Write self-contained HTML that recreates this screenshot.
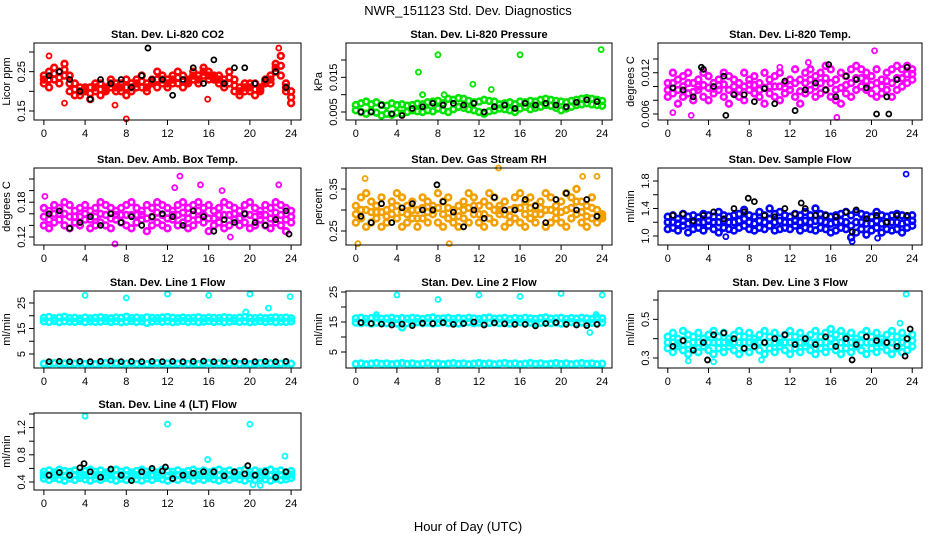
<!DOCTYPE html>
<html><head><meta charset="utf-8">
<style>
html,body{margin:0;padding:0;background:#fff;}
svg{display:block;font-family:"Liberation Sans",Arial,sans-serif;}
</style></head>
<body>
<svg id="chart" width="936" height="540" viewBox="0 0 936 540">
<text x="468" y="15" text-anchor="middle" font-size="13">NWR_151123  Std. Dev. Diagnostics</text>
<text x="468" y="531" text-anchor="middle" font-size="13">Hour of Day (UTC)</text>
</svg>
<script>
const hoursHalf = [0,0.5,1,1.5,2,2.5,3,3.5,4,4.5,5,5.5,6,6.5,7,7.5,8,8.5,9,9.5,10,10.5,11,11.5,12,12.5,13,13.5,14,14.5,15,15.5,16,16.5,17,17.5,18,18.5,19,19.5,20,20.5,21,21.5,22,22.5,23,23.5,24];
const hoursBlack = [0.5,1.5,2.5,3.5,4.5,5.5,6.5,7.5,8.5,9.5,10.5,11.5,12.5,13.5,14.5,15.5,16.5,17.5,18.5,19.5,20.5,21.5,22.5,23.5];
const xTicks = [0,4,8,12,16,20,24];

// Panel 1: Li-820 CO2
const co2A = [0.24,0.25,0.26,0.25,0.27,0.24,0.22,0.21,0.20,0.21,0.20,0.22,0.21,0.23,0.22,0.20,0.23,0.22,0.21,0.24,0.22,0.23,0.25,0.22,0.23,0.24,0.22,0.24,0.23,0.25,0.24,0.26,0.23,0.24,0.22,0.23,0.25,0.23,0.21,0.22,0.20,0.22,0.21,0.22,0.24,0.27,0.29,0.22,0.17];
const co2B = [0.22,0.21,0.23,0.22,0.24,0.20,0.19,0.19,0.21,0.18,0.22,0.19,0.20,0.21,0.20,0.22,0.19,0.20,0.23,0.21,0.20,0.22,0.21,0.24,0.21,0.22,0.25,0.21,0.22,0.23,0.22,0.24,0.25,0.23,0.24,0.21,0.22,0.20,0.19,0.20,0.22,0.19,0.20,0.23,0.22,0.25,0.24,0.20,0.20];
const co2M = [0.23,0.23,0.245,0.235,0.255,0.22,0.205,0.20,0.205,0.195,0.21,0.205,0.205,0.22,0.21,0.21,0.21,0.21,0.22,0.225,0.21,0.225,0.23,0.23,0.22,0.23,0.235,0.225,0.225,0.24,0.23,0.25,0.24,0.235,0.23,0.22,0.235,0.215,0.20,0.21,0.21,0.205,0.205,0.225,0.23,0.26,0.265,0.21,0.185];
const co2Black = [0.24,0.25,0.23,0.20,0.18,0.23,0.22,0.23,0.21,0.24,0.23,0.23,0.19,0.23,0.26,0.22,0.28,0.22,0.26,0.26,0.22,0.23,0.25,0.21];
const co2Out = [[8,0.13],[0.5,0.29],[6.9,0.165],[2,0.17],[22.8,0.31],[15.9,0.18]];
const co2BlackOut = [[10.1,0.31]];
// Panel 2: Pressure
const presA = [0.0070,0.0075,0.0080,0.0072,0.0078,0.0070,0.0068,0.0075,0.0070,0.0072,0.0068,0.0070,0.0074,0.0072,0.0078,0.0080,0.0082,0.0075,0.0088,0.0085,0.0090,0.0088,0.0082,0.0078,0.0080,0.0085,0.0082,0.0080,0.0072,0.0075,0.0078,0.0072,0.0080,0.0078,0.0082,0.0080,0.0085,0.0088,0.0085,0.0082,0.0080,0.0078,0.0082,0.0085,0.0088,0.0090,0.0088,0.0085,0.0082];
const presB = [0.0055,0.0050,0.0045,0.0052,0.0048,0.0040,0.0045,0.0042,0.0048,0.0045,0.0050,0.0055,0.0052,0.0050,0.0055,0.0052,0.0060,0.0055,0.0050,0.0058,0.0065,0.0062,0.0058,0.0055,0.0050,0.0045,0.0052,0.0055,0.0060,0.0058,0.0055,0.0050,0.0060,0.0065,0.0058,0.0062,0.0065,0.0070,0.0068,0.0062,0.0055,0.0060,0.0065,0.0070,0.0072,0.0075,0.0072,0.0070,0.0068];
const presBlack = [0.0050,0.0050,0.0070,0.0045,0.0040,0.0060,0.0065,0.0075,0.0070,0.0075,0.0070,0.0075,0.0050,0.0065,0.0070,0.0060,0.0075,0.0070,0.0075,0.0070,0.0065,0.0078,0.0085,0.0080];
const presOut = [[8,0.0215],[16,0.0215],[23.9,0.023],[6.1,0.0165],[11.4,0.013],[13.2,0.0115],[6.5,0.010],[8.6,0.010]];
const presBlackOut = [];
// Panel 3: Li-820 Temp
const tempA = [0.0105,0.012,0.011,0.0115,0.012,0.0105,0.011,0.012,0.0115,0.0105,0.011,0.012,0.0115,0.011,0.0105,0.012,0.011,0.0115,0.0105,0.012,0.011,0.0115,0.012,0.0105,0.011,0.0125,0.011,0.012,0.0125,0.0115,0.012,0.013,0.0125,0.011,0.012,0.0115,0.0125,0.013,0.0125,0.012,0.0115,0.0125,0.011,0.012,0.0125,0.013,0.0125,0.013,0.0125];
const tempB = [0.0085,0.009,0.0075,0.0085,0.009,0.008,0.0095,0.0085,0.008,0.009,0.0095,0.0085,0.0075,0.009,0.0085,0.008,0.0095,0.009,0.0085,0.0075,0.009,0.0085,0.008,0.009,0.0095,0.0085,0.0075,0.009,0.0095,0.0085,0.009,0.0095,0.0085,0.008,0.0075,0.009,0.0085,0.0095,0.01,0.0095,0.009,0.0085,0.009,0.0095,0.0085,0.0095,0.01,0.0105,0.011];
const tempM = [0.0095,0.0105,0.0095,0.010,0.0105,0.0092,0.010,0.0102,0.0098,0.0097,0.0102,0.0103,0.0095,0.010,0.0095,0.010,0.0103,0.0102,0.0095,0.0098,0.010,0.010,0.010,0.0098,0.0102,0.0105,0.0093,0.0105,0.011,0.010,0.0105,0.0112,0.0105,0.0095,0.0098,0.0102,0.0105,0.0112,0.0112,0.0108,0.0102,0.0105,0.010,0.0108,0.0105,0.0112,0.0112,0.0118,0.0118];
const tempBlack = [0.0098,0.0095,0.0085,0.0125,0.010,0.0115,0.0088,0.0088,0.0078,0.0097,0.0075,0.0108,0.0065,0.0095,0.0105,0.0095,0.0085,0.0115,0.011,0.0098,0.006,0.0085,0.011,0.0128];
const tempOut = [[20.3,0.0152],[16.6,0.0055],[0.5,0.0062],[2.3,0.0058],[13.8,0.0135],[11,0.0128]];
const tempBlackOut = [[5.7,0.0058],[15.8,0.0132],[3.3,0.0128],[21.7,0.006]];
// Panel 4: Amb. Box Temp
const boxA = [0.17,0.165,0.175,0.17,0.18,0.175,0.165,0.17,0.175,0.165,0.17,0.18,0.175,0.17,0.165,0.17,0.175,0.18,0.17,0.165,0.175,0.17,0.18,0.175,0.17,0.165,0.175,0.18,0.17,0.175,0.18,0.17,0.175,0.165,0.17,0.18,0.175,0.17,0.165,0.175,0.18,0.17,0.165,0.175,0.17,0.18,0.175,0.17,0.165];
const boxB = [0.14,0.135,0.145,0.15,0.14,0.135,0.145,0.14,0.15,0.135,0.14,0.145,0.14,0.135,0.15,0.145,0.14,0.135,0.145,0.15,0.13,0.14,0.145,0.14,0.135,0.15,0.14,0.145,0.135,0.14,0.15,0.145,0.13,0.14,0.145,0.135,0.14,0.15,0.14,0.145,0.135,0.14,0.15,0.14,0.135,0.145,0.14,0.13,0.145];
const boxM = [0.155,0.15,0.16,0.16,0.16,0.155,0.155,0.155,0.16,0.15,0.155,0.16,0.158,0.152,0.158,0.158,0.158,0.158,0.158,0.158,0.152,0.155,0.162,0.158,0.152,0.158,0.158,0.162,0.152,0.158,0.165,0.158,0.152,0.152,0.158,0.158,0.158,0.16,0.152,0.16,0.158,0.155,0.158,0.158,0.152,0.162,0.158,0.15,0.155];
const boxBlack = [0.16,0.165,0.135,0.145,0.155,0.14,0.16,0.145,0.155,0.14,0.155,0.16,0.155,0.14,0.165,0.155,0.13,0.15,0.145,0.16,0.145,0.14,0.15,0.165];
const boxOut = [[13.2,0.225],[12.7,0.205],[17.3,0.2],[15.2,0.21],[22.8,0.21],[6.9,0.108],[0.1,0.19],[18.1,0.12]];
const boxBlackOut = [[23.8,0.125]];
// Panel 5: Gas Stream RH
const rhA = [0.31,0.33,0.34,0.32,0.31,0.33,0.30,0.32,0.34,0.33,0.31,0.32,0.30,0.33,0.32,0.31,0.34,0.32,0.33,0.30,0.31,0.32,0.34,0.33,0.31,0.32,0.34,0.33,0.31,0.32,0.30,0.33,0.34,0.32,0.33,0.31,0.32,0.34,0.33,0.31,0.32,0.34,0.33,0.35,0.32,0.31,0.33,0.30,0.29];
const rhB = [0.27,0.28,0.26,0.27,0.28,0.26,0.27,0.29,0.28,0.26,0.27,0.28,0.26,0.28,0.27,0.29,0.27,0.26,0.28,0.27,0.26,0.28,0.27,0.29,0.27,0.26,0.28,0.27,0.29,0.26,0.27,0.28,0.27,0.26,0.28,0.27,0.29,0.26,0.27,0.28,0.27,0.26,0.28,0.29,0.27,0.26,0.28,0.27,0.28];
const rhM = [0.29,0.30,0.30,0.295,0.295,0.295,0.285,0.305,0.31,0.295,0.29,0.30,0.28,0.305,0.295,0.30,0.305,0.29,0.305,0.285,0.285,0.30,0.305,0.31,0.29,0.29,0.31,0.30,0.30,0.29,0.285,0.305,0.305,0.29,0.305,0.29,0.305,0.30,0.30,0.295,0.295,0.30,0.305,0.32,0.295,0.285,0.305,0.285,0.285];
const rhBlack = [0.285,0.27,0.315,0.27,0.305,0.315,0.30,0.30,0.32,0.295,0.26,0.30,0.28,0.33,0.30,0.30,0.325,0.31,0.27,0.325,0.34,0.30,0.325,0.285];
const rhOut = [[13.9,0.40],[0.2,0.22],[9.1,0.22],[22.1,0.38],[0.9,0.375],[23.5,0.38]];
const rhBlackOut = [[7.9,0.36]];
// Panel 6: Sample Flow
const sfA = [1.28,1.3,1.25,1.32,1.28,1.3,1.27,1.32,1.3,1.28,1.35,1.3,1.28,1.3,1.32,1.38,1.3,1.28,1.35,1.3,1.4,1.32,1.35,1.3,1.28,1.32,1.3,1.35,1.3,1.4,1.32,1.3,1.28,1.3,1.32,1.35,1.3,1.35,1.32,1.3,1.28,1.35,1.3,1.28,1.3,1.32,1.3,1.28,1.3];
const sfB = [1.1,1.12,1.08,1.15,1.05,1.1,1.12,1.08,1.15,1.1,1.05,1.12,1.1,1.08,1.12,1.15,1.1,1.08,1.12,1.1,1.15,1.08,1.1,1.12,1.1,1.15,1.08,1.12,1.1,1.08,1.12,1.1,1.05,1.08,1.12,1.1,0.98,1.05,1.1,1.02,1.08,1.12,1.05,1.1,1.08,1.1,1.05,1.12,1.15];
const sfM = [1.2,1.2,1.18,1.22,1.18,1.2,1.2,1.2,1.22,1.2,1.2,1.22,1.2,1.2,1.22,1.25,1.2,1.18,1.22,1.2,1.25,1.2,1.22,1.2,1.2,1.22,1.2,1.22,1.2,1.22,1.22,1.2,1.18,1.2,1.22,1.2,1.15,1.2,1.2,1.18,1.18,1.22,1.18,1.2,1.2,1.2,1.18,1.2,1.22];
const sfBlack = [1.3,1.32,1.22,1.3,1.35,1.25,1.4,1.35,1.5,1.3,1.28,1.4,1.32,1.4,1.3,1.3,1.28,1.35,1.38,1.25,1.3,1.2,1.3,1.3];
const sfOut = [[23.4,1.9],[18.1,0.92],[5.7,0.99],[20.6,0.97]];
const sfBlackOut = [[7.9,1.55],[13.1,1.48],[18.1,1.06]];
// Panel 7: Line 1 Flow
const l1A = [19.2,19.5,19.0,19.3,19.6,19.1,19.2,18.9,19.3,19.0,19.2,19.4,19.1,19.0,19.3,19.2,19.6,19.1,19.3,19.0,19.4,19.2,19.1,19.3,19.5,19.2,19.0,19.3,19.1,19.2,19.4,19.0,19.3,19.2,19.1,19.4,19.2,19.0,19.3,19.5,19.2,19.1,19.3,19.0,19.2,19.4,19.1,19.3,19.0];
const l1B = [17.8,17.6,17.9,17.5,17.8,17.7,17.6,17.9,17.5,17.8,17.6,17.7,17.9,17.6,17.8,17.5,17.7,17.9,17.6,17.8,17.2,17.7,17.9,17.6,17.8,17.5,17.7,17.9,17.6,17.8,17.5,17.7,17.9,17.6,17.8,17.5,17.7,17.9,17.6,17.8,17.5,17.7,17.9,17.6,17.8,17.5,17.7,17.6,17.8];
const l1C = [1.2,1.0,1.4,1.1,1.3,1.0,1.2,1.4,1.1,1.3,1.0,1.2,1.4,1.1,1.3,1.0,1.2,1.4,1.1,1.3,1.0,1.2,1.4,1.1,1.3,1.0,1.2,1.4,1.1,1.3,1.0,1.2,1.4,1.1,1.3,1.0,1.2,1.4,1.1,1.3,1.0,1.2,1.4,1.1,1.3,1.0,1.2,1.4,1.2];
const l1Black = [2.0,2.1,2.0,2.1,2.0,2.1,2.2,2.0,2.1,2.0,2.1,2.0,2.1,2.0,2.1,2.2,2.0,2.1,2.0,2.1,2.0,2.1,2.0,2.1];
const l1Out = [[4,28],[8,27],[12,28.5],[16,28],[20,28.5],[21.8,23],[23.9,27.5],[19.6,21.5]];
const l1BlackOut = [];
// Panel 8: Line 2 Flow
const l2A = [16.2,16.4,16.0,16.3,16.5,16.1,16.2,16.4,16.0,16.3,16.1,16.4,16.2,16.0,16.3,16.5,16.1,16.2,16.4,16.0,16.3,16.1,16.4,16.2,16.0,16.3,16.5,16.1,16.2,16.4,16.0,16.3,16.1,16.4,16.2,16.0,16.3,16.5,16.1,16.2,16.4,16.0,16.3,16.1,16.4,16.2,16.0,16.6,16.2];
const l2B = [14.8,14.6,14.9,14.5,14.8,14.7,14.6,14.9,14.5,13.2,14.6,14.7,14.9,14.6,14.8,14.5,14.7,14.9,14.6,14.8,14.5,14.7,14.9,14.6,14.8,14.5,14.7,14.9,14.6,14.8,14.5,14.7,14.9,14.6,14.8,14.5,14.7,14.9,14.6,14.8,14.5,14.7,14.9,14.6,14.8,14.5,14.7,14.6,14.8];
const l2C = [1.0,1.2,0.9,1.1,1.3,1.0,1.2,0.9,1.1,1.3,1.0,1.2,0.9,1.1,1.3,1.0,1.2,0.9,1.1,1.3,1.0,1.2,0.9,1.1,1.3,1.0,1.2,0.9,1.1,1.3,1.0,1.2,0.9,1.1,1.3,1.0,1.2,0.9,1.1,1.3,1.0,1.2,0.9,1.1,1.3,1.0,1.2,0.9,1.1];
const l2Black = [14.8,14.5,14.3,14.0,14.3,13.8,14.6,14.5,14.8,14.2,14.5,15.0,14.0,14.7,14.4,14.2,14.2,13.7,14.5,14.8,14.2,14.0,13.8,14.2];
const l2Out = [[4,24],[8,22.5],[12,24],[16,23.5],[20,24.5],[24,24],[2,17.5],[22.8,11.5],[23.4,17.5]];
const l2BlackOut = [];
// Panel 9: Line 3 Flow
const l3A = [0.41,0.43,0.40,0.44,0.42,0.41,0.43,0.40,0.42,0.44,0.41,0.43,0.40,0.42,0.44,0.41,0.43,0.40,0.42,0.44,0.41,0.43,0.40,0.42,0.44,0.41,0.43,0.40,0.42,0.44,0.41,0.43,0.45,0.42,0.44,0.41,0.43,0.40,0.42,0.44,0.41,0.43,0.40,0.42,0.44,0.41,0.43,0.40,0.42];
const l3B = [0.35,0.33,0.36,0.34,0.32,0.35,0.33,0.36,0.34,0.32,0.35,0.33,0.36,0.34,0.32,0.35,0.33,0.36,0.34,0.32,0.35,0.33,0.36,0.34,0.32,0.35,0.33,0.36,0.34,0.32,0.35,0.33,0.36,0.34,0.32,0.35,0.33,0.36,0.34,0.32,0.35,0.33,0.36,0.34,0.32,0.35,0.33,0.34,0.36];
const l3M = [0.38,0.38,0.375,0.39,0.37,0.38,0.38,0.38,0.38,0.38,0.38,0.38,0.38,0.38,0.38,0.38,0.38,0.38,0.38,0.38,0.38,0.38,0.38,0.38,0.38,0.38,0.38,0.38,0.38,0.38,0.38,0.38,0.40,0.38,0.38,0.38,0.38,0.38,0.38,0.38,0.38,0.38,0.38,0.38,0.38,0.38,0.38,0.37,0.39];
const l3Black = [0.36,0.39,0.34,0.38,0.42,0.43,0.40,0.35,0.36,0.38,0.40,0.42,0.37,0.40,0.37,0.41,0.36,0.40,0.37,0.41,0.39,0.38,0.36,0.40];
const l3Out = [[23.4,0.63],[4.5,0.28],[22.8,0.48],[2,0.285],[9.2,0.29]];
const l3BlackOut = [[18.1,0.29],[3.9,0.29],[23.3,0.31],[23.8,0.45]];
// Panel 10: Line 4 (LT) Flow
const l4A = [0.55,0.57,0.54,0.58,0.56,0.55,0.57,0.54,0.56,0.58,0.55,0.57,0.54,0.56,0.58,0.55,0.57,0.54,0.56,0.58,0.55,0.57,0.54,0.58,0.56,0.55,0.57,0.54,0.56,0.58,0.55,0.57,0.54,0.56,0.58,0.55,0.57,0.54,0.56,0.58,0.55,0.57,0.54,0.56,0.58,0.55,0.57,0.54,0.56];
const l4B = [0.45,0.43,0.46,0.44,0.42,0.45,0.43,0.46,0.44,0.42,0.45,0.43,0.46,0.44,0.42,0.45,0.43,0.46,0.44,0.42,0.45,0.43,0.46,0.44,0.42,0.45,0.43,0.46,0.44,0.42,0.45,0.43,0.46,0.44,0.42,0.45,0.43,0.46,0.44,0.42,0.45,0.43,0.46,0.44,0.42,0.45,0.43,0.44,0.46];
const l4M = [0.50,0.50,0.50,0.51,0.49,0.50,0.50,0.50,0.50,0.50,0.50,0.50,0.50,0.50,0.50,0.50,0.50,0.50,0.50,0.50,0.50,0.50,0.50,0.51,0.49,0.50,0.50,0.50,0.50,0.50,0.50,0.50,0.50,0.50,0.50,0.50,0.50,0.50,0.50,0.50,0.50,0.50,0.50,0.50,0.50,0.50,0.50,0.49,0.51];
const l4Black = [0.50,0.54,0.50,0.61,0.55,0.47,0.59,0.50,0.42,0.55,0.60,0.56,0.45,0.50,0.53,0.55,0.55,0.49,0.55,0.52,0.50,0.55,0.47,0.55];
const l4Out = [[4,1.37],[12,1.25],[20,1.25],[23.4,0.78],[15.9,0.73],[21,0.35],[20.3,0.36]];
const l4BlackOut = [[3.9,0.67],[11.8,0.62],[19.8,0.64]];

const panels = [
 {name:'co2',title:'Stan. Dev. Li-820 CO2',ylab:'Licor ppm',col:0,row:0,color:'#ff0000',series:[co2A,co2B,co2M],black:co2Black,out:co2Out,bout:co2BlackOut,ticks:[0.15,0.20,0.25,0.30],labels:['0.15','','0.25',''],cal:[0.15,111,0.30,52]},
 {name:'pressure',title:'Stan. Dev. Li-820 Pressure',ylab:'kPa',col:1,row:0,color:'#00e400',series:[presA,presB],black:presBlack,out:presOut,bout:presBlackOut,ticks:[0.005,0.010,0.015,0.020],labels:['0.005','','0.015',''],cal:[0.005,112,0.020,60]},
 {name:'li820-temp',title:'Stan. Dev. Li-820 Temp.',ylab:'degrees C',col:2,row:0,color:'#ff00ff',series:[tempA,tempB,tempM],black:tempBlack,out:tempOut,bout:tempBlackOut,ticks:[0.006,0.008,0.010,0.012,0.014],labels:['0.006','','','0.012',''],cal:[0.006,114,0.014,59]},
 {name:'amb-box-temp',title:'Stan. Dev. Amb. Box Temp.',ylab:'degrees C',col:0,row:1,color:'#ff00ff',series:[boxA,boxB,boxM],black:boxBlack,out:boxOut,bout:boxBlackOut,ticks:[0.12,0.14,0.16,0.18,0.20,0.22],labels:['0.12','','','0.18','',''],cal:[0.12,237,0.22,179]},
 {name:'gas-stream-rh',title:'Stan. Dev. Gas Stream RH',ylab:'percent',col:1,row:1,color:'#f2a000',series:[rhA,rhB,rhM],black:rhBlack,out:rhOut,bout:rhBlackOut,ticks:[0.25,0.30,0.35,0.40],labels:['0.25','','0.35',''],cal:[0.25,231,0.40,168]},
 {name:'sample-flow',title:'Stan. Dev. Sample Flow',ylab:'ml/min',col:2,row:1,color:'#0000ff',series:[sfA,sfB,sfM],black:sfBlack,out:sfOut,bout:sfBlackOut,ticks:[1.0,1.2,1.4,1.6,1.8],labels:['1.0','','1.4','','1.8'],cal:[1.0,236,1.8,181]},
 {name:'line1-flow',title:'Stan. Dev. Line 1 Flow',ylab:'ml/min',col:0,row:2,color:'#00ffff',series:[l1A,l1B,l1C],black:l1Black,out:l1Out,bout:l1BlackOut,ticks:[5,10,15,20,25],labels:['5','','15','','25'],cal:[5,354,25,303]},
 {name:'line2-flow',title:'Stan. Dev. Line 2 Flow',ylab:'ml/min',col:1,row:2,color:'#00ffff',series:[l2A,l2B,l2C],black:l2Black,out:l2Out,bout:l2BlackOut,ticks:[5,10,15,20,25],labels:['5','','15','','25'],cal:[5,352,25,292]},
 {name:'line3-flow',title:'Stan. Dev. Line 3 Flow',ylab:'ml/min',col:2,row:2,color:'#00ffff',series:[l3A,l3B,l3M],black:l3Black,out:l3Out,bout:l3BlackOut,ticks:[0.3,0.4,0.5,0.6],labels:['0.3','','0.5',''],cal:[0.3,358,0.6,300]},
 {name:'line4-flow',title:'Stan. Dev. Line 4 (LT) Flow',ylab:'ml/min',col:0,row:3,color:'#00ffff',series:[l4A,l4B,l4M],black:l4Black,out:l4Out,bout:l4BlackOut,ticks:[0.4,0.6,0.8,1.0,1.2,1.4],labels:['0.4','','0.8','','1.2',''],cal:[0.4,482,1.4,414]}
];
const colLeft=[34,346,658], colRight=[301,612,922], rowTop=[43,168,291,413], boxH=77;
const NS='http://www.w3.org/2000/svg';
const svg=document.getElementById('chart');
function mk(tag,attrs,parent){const e=document.createElementNS(NS,tag);for(const k in attrs)e.setAttribute(k,attrs[k]);(parent||svg).appendChild(e);return e;}

panels.forEach(p=>{
  const L=colLeft[p.col], R=colRight[p.col], T=rowTop[p.row], B=T+boxH, W=R-L;
  const xs=h=>L+(h+0.96)/25.92*W;
  const ys=v=>p.cal[1]+(v-p.cal[0])*(p.cal[3]-p.cal[1])/(p.cal[2]-p.cal[0]);
  const g=mk('g',{});
  
  
  const t=mk('text',{x:(L+R)/2,y:T-5,'text-anchor':'middle','font-size':'11','font-weight':'bold'},g);
  t.textContent=p.title;
  
  
  const pts=mk('g',{fill:'none','stroke-width':'2.6'},g);
  
  
  p.series.forEach(s=>{s.forEach((v,i)=>{
    const c=mk('circle',{cx:xs(hoursHalf[i]),cy:ys(v),r:2.9,stroke:p.color},pts);
    
    
  });});
  p.out.forEach(o=>{
    const c=mk('circle',{cx:xs(o[0]),cy:ys(o[1]),r:2.5,stroke:p.color,'stroke-width':'1.8'},pts);
    
    
  });
  p.black.forEach((v,i)=>{
    const c=mk('circle',{cx:xs(hoursBlack[i]),cy:ys(v),r:2.5,stroke:'#000','stroke-width':'1.8'},pts);
    
    
  });
  p.bout.forEach(o=>{
    const c=mk('circle',{cx:xs(o[0]),cy:ys(o[1]),r:2.5,stroke:'#000','stroke-width':'1.8'},pts);
    
    
  });
  const box=mk('rect',{x:L,y:T,width:W,height:boxH,fill:'none',stroke:'#000','stroke-width':'1'},g);
  
  
  const xa=mk('g',{'font-size':'11'},g);
  
  
  xTicks.forEach(h=>{
    mk('line',{x1:xs(h),x2:xs(h),y1:B,y2:B+5,stroke:'#000'},xa);
    const tx=mk('text',{x:xs(h),y:B+17,'text-anchor':'middle'},xa);
    tx.textContent=String(h);
    
    
  });
  const ya=mk('g',{'font-size':'11'},g);
  
  
  p.ticks.forEach((v,i)=>{
    mk('line',{x1:L-5,x2:L,y1:ys(v),y2:ys(v),stroke:'#000'},ya);
    if(p.labels[i]){
      const tx=mk('text',{x:L-9,y:ys(v),'text-anchor':'middle',transform:'rotate(-90 '+(L-9)+' '+ys(v)+')'},ya);
      tx.textContent=p.labels[i];
      
      
    }
  });
  const yl=mk('text',{x:L-24,y:(T+B)/2,'text-anchor':'middle','font-size':'11',transform:'rotate(-90 '+(L-24)+' '+((T+B)/2)+')'},g);
  yl.textContent=p.ylab;
  
  
});
</script>
</body></html>
